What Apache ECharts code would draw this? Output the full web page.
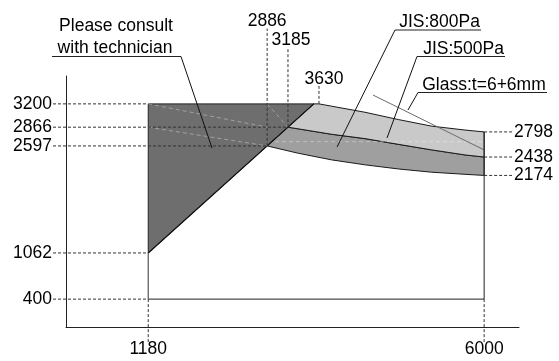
<!DOCTYPE html>
<html>
<head>
<meta charset="utf-8">
<script src="https://cdn.jsdelivr.net/npm/echarts@6/dist/echarts.min.js"></script>
<style>
  html, body { margin: 0; background: #fff; }
  #chart { width: 559px; height: 361px; }
</style>
</head>
<body>
<div id="chart"></div>
<script>
// values (width mm on x, height mm on y)
const xTicks = [1180, 6000];
const leftTicks = [400, 1062, 2597, 2866, 3200];
const leftGuideEnds = [1180, 1180, 2886, 3185, 1180];
const rightTicks = [2798, 2438, 2174];
const topTicks = [2886, 3185, 3630];
const topGuideFrom = [2597, 2866, 3200];

// dark zone: "please consult with technician"
const consultZone = [[1180, 1062], [1180, 3200], [3556, 3200]];
// limit curves
const glassCurve = [[3630, 3200], [4290, 3080], [4770, 2975], [5250, 2880], [5725, 2825], [6000, 2798]];
const jis500Curve = [[3185, 2866], [3812, 2764], [4290, 2702], [4768, 2620], [5247, 2540], [5725, 2468], [6000, 2438]];
const jis800Curve = [[2886, 2597], [3333, 2492], [3812, 2397], [4290, 2326], [4768, 2267], [5247, 2220], [5725, 2190], [6000, 2174]];
// white size box corners
const boxLow = [[1180, 400], [6000, 400]];

// leader targets for the notes
const noteTargets = [[2095, 2567], [3889, 2582], [4606, 2711], [4907, 3112]];
const noteTexts = [['Please consult', 'with technician'], ['JIS:800Pa'], ['JIS:500Pa'], ['Glass:t=6+6mm']];
// faint construction lines left in the drawing
const faintLines = [
  [[1180, 3200], [2886, 2866]],
  [[1180, 2866], [2886, 2597]],
  [[2886, 3200], [3185, 2866]],
  [[3000, 2658], [6000, 2658]]
];
const greyLine = [[4405, 3327], [6000, 2540]];

// layout (pixels) for the notes: text centres, underline y and x range
const noteLayout = [
  { lines: [[116, 26], [115, 48.5]], uy: 56.5, ux: [52, 181] },
  { lines: [[439.5, 22.5]], uy: 30, ux: [395, 481] },
  { lines: [[463.5, 49.5]], uy: 56.5, ux: [417, 505] },
  { lines: [[484, 85]], uy: 92.5, ux: [418, 547] }
];
const topLabelY = [21.5, 40.5, 79];
const topLabelDx = [0, 3, 5];

const FONT = "17.5px 'Liberation Sans', Arial, sans-serif";
const TXT = '#000';
const DASH = { stroke: '#333', lineWidth: 1, lineDash: [3, 2] };

function text(str, x, y, align) {
  return { type: 'text', style: { text: str, x: x, y: y, font: FONT, fill: TXT, align: align || 'center', verticalAlign: 'middle' } };
}
function seg(a, b, style) {
  return { type: 'line', shape: { x1: a[0], y1: a[1], x2: b[0], y2: b[1] }, style: style };
}

function renderItem(params, api) {
  const c = (pt) => api.coord(pt);
  const kids = [];
  const poly = (pts, fill, stroke) => ({
    type: 'polygon', shape: { points: pts.map(c) },
    style: { fill: fill, stroke: stroke, lineWidth: 1 }
  });

  // fills
  kids.push(poly(consultZone, '#6e6e6e', '#222'));
  kids.push(poly(jis500Curve.concat(jis800Curve.slice().reverse()), '#9f9f9f', '#1a1a1a'));
  kids.push(poly([jis500Curve[0], consultZone[2]].concat(glassCurve, jis500Curve.slice().reverse()), '#c9c9c9', '#1a1a1a'));
  // the diagonal edge in black
  kids.push(seg(c(consultZone[0]), c(consultZone[2]), { stroke: '#111', lineWidth: 1.2 }));

  // faint lines
  faintLines.forEach(l => kids.push(seg(c(l[0]), c(l[1]), { stroke: 'rgba(255,255,255,0.35)', lineWidth: 1, lineDash: [4, 3] })));
  kids.push(seg(c(greyLine[0]), c(greyLine[1]), { stroke: '#6a6a6a', lineWidth: 1 }));

  // white box
  const bl = c(boxLow[0]), br = c(boxLow[1]);
  kids.push(seg(bl, br, { stroke: '#222', lineWidth: 1 }));
  kids.push(seg(br, c([boxLow[1][0], rightTicks[0]]), { stroke: '#222', lineWidth: 1 }));
  kids.push(seg(bl, c(consultZone[0]), { stroke: '#555', lineWidth: 1.2 }));

  // left ticks
  leftTicks.forEach((v, i) => {
    const e = c([leftGuideEnds[i], v]);
    kids.push(seg([53, e[1]], e, DASH));
    kids.push(text(String(v), 52, e[1], 'right'));
  });
  // right ticks
  rightTicks.forEach(v => {
    const e = c([boxLow[1][0], v]);
    kids.push(seg(e, [512, e[1]], DASH));
    kids.push(text(String(v), 514, e[1], 'left'));
  });
  // bottom ticks
  xTicks.forEach(v => {
    const e = c([v, boxLow[0][1]]);
    kids.push(seg(e, [e[0], 342], DASH));
    kids.push(text(String(v), e[0], 349.5));
  });
  // top ticks
  topTicks.forEach((v, i) => {
    const e = c([v, topGuideFrom[i]]);
    kids.push(seg(e, [e[0], topLabelY[i] + 7], DASH));
    kids.push(text(String(v), e[0] + topLabelDx[i], topLabelY[i]));
  });

  // notes with underline and leader
  noteLayout.forEach((n, i) => {
    n.lines.forEach((p, j) => kids.push(text(noteTexts[i][j], p[0], p[1])));
    kids.push(seg([n.ux[0], n.uy], [n.ux[1], n.uy], { stroke: '#222', lineWidth: 1 }));
    const start = i === 0 ? [n.ux[1], n.uy] : [n.ux[0], n.uy];
    kids.push(seg(start, c(noteTargets[i]), { stroke: '#111', lineWidth: 1 }));
  });

  return { type: 'group', children: kids };
}

const chart = echarts.init(document.getElementById('chart'), null, { renderer: 'canvas' });
chart.setOption({
  animation: false,
  backgroundColor: '#fff',
  grid: { left: 66, right: 40, top: 76, bottom: 34 },
  xAxis: {
    type: 'value', min: 0, max: 6500,
    axisLine: { lineStyle: { color: '#222', width: 1 } },
    axisTick: { show: false }, axisLabel: { show: false }, splitLine: { show: false }
  },
  yAxis: {
    type: 'value', min: 0, max: 3600,
    axisLine: { show: true, lineStyle: { color: '#222', width: 1 } },
    axisTick: { show: false }, axisLabel: { show: false }, splitLine: { show: false }
  },
  series: [{
    type: 'custom',
    silent: true,
    clip: false,
    renderItem: renderItem,
    data: [[0, 0]]
  }]
});
</script>
</body>
</html>
